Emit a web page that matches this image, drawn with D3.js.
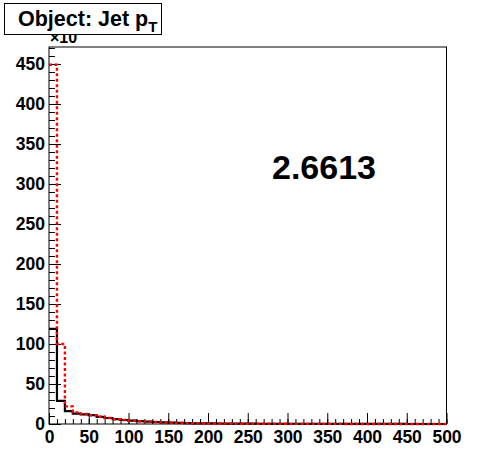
<!DOCTYPE html>
<html><head><meta charset="utf-8">
<script src="https://cdn.jsdelivr.net/npm/d3@7"></script>
<style>body{margin:0;background:#fff;}svg{display:block;font-family:"Liberation Sans",Arial,sans-serif;}</style>
</head><body>
<script>
const binEdges = d3.range(0, 510, 10);
const blackValues = [119, 29, 16, 13, 12, 11, 9, 7.5, 6, 5, 4.2, 3.5, 3, 2.5, 2, 1.6, 1.3, 1.1, 0.9, 0.8, 0.7, 0.6, 0.5, 0.45, 0.4, 0.35, 0.3, 0.28, 0.25, 0.22, 0.2, 0.18, 0.16, 0.14, 0.12, 0.1, 0.1, 0.08, 0.08, 0.07, 0.06, 0.05, 0.05, 0.04, 0.04, 0.03, 0.03, 0.03, 0.02, 0.02];
const redValues = [449, 100, 22, 14.5, 12.5, 11, 9, 7.5, 6, 5, 4, 3.5, 3, 2.5, 2, 1.6, 1.3, 1.1, 0.9, 0.8, 0.7, 0.6, 0.5, 0.45, 0.4, 0.35, 0.3, 0.28, 0.25, 0.22, 0.2, 0.18, 0.16, 0.14, 0.12, 0.1, 0.1, 0.08, 0.08, 0.07, 0.06, 0.05, 0.05, 0.04, 0.04, 0.03, 0.03, 0.03, 0.02, 0.02];
const xTickValues = [0, 50, 100, 150, 200, 250, 300, 350, 400, 450, 500];
const yTickValues = [0, 50, 100, 150, 200, 250, 300, 350, 400, 450];
const titleText = "Object: Jet p";
const titleSub = "T";
const exponentText = "\u00d710";
const valueLabel = "2.6613";

const W = 496, H = 472;
const L = 49, R = 446.5, T = 47, B = 424;
const svg = d3.select("body").append("svg").attr("width", W).attr("height", H);
const x = d3.scaleLinear().domain([0, 500]).range([L, R]);
const y = d3.scaleLinear().domain([0, 471.25]).range([B, T]);

// frame
svg.append("rect").attr("x", L).attr("y", T).attr("width", R - L).attr("height", B - T)
  .attr("fill", "none").attr("stroke", "#000").attr("stroke-width", 1);

// axes
const yAxis = d3.axisLeft(y).tickValues(yTickValues).tickSize(-12).tickPadding(4).tickFormat(d3.format("d"));
const yMinor = d3.axisLeft(y).tickValues(d3.range(0, 471, 10)).tickSize(-6).tickFormat("");
const xAxis = d3.axisBottom(x).tickValues(xTickValues).tickSize(-11).tickPadding(7).tickFormat(d3.format("d"));
const xMinor = d3.axisBottom(x).tickValues(d3.range(0, 501, 10)).tickSize(-5).tickFormat("");

function styleAxis(g) {
  g.select(".domain").remove();
  g.selectAll("line").attr("stroke", "#000").attr("stroke-width", 1);
  g.selectAll("text").attr("font-size", 17.5).attr("font-weight", "bold").attr("fill", "#000")
    .attr("font-family", "'Liberation Sans', Arial, sans-serif");
}
svg.append("g").attr("transform", `translate(${L},0)`).call(yMinor).call(styleAxis);
svg.append("g").attr("transform", `translate(${L},0)`).call(yAxis).call(styleAxis);
svg.append("g").attr("transform", `translate(0,${B})`).call(xMinor).call(styleAxis);
svg.append("g").attr("transform", `translate(0,${B})`).call(xAxis).call(styleAxis);

// histograms
function stepPath(vals) {
  const pts = [];
  vals.forEach((v, i) => {
    pts.push([x(binEdges[i]), y(v)]);
    pts.push([x(binEdges[i + 1]), y(v)]);
  });
  return d3.line()(pts);
}
svg.append("path").attr("d", stepPath(blackValues)).attr("fill", "none")
  .attr("stroke", "#000").attr("stroke-width", 2.2);
svg.append("path").attr("d", stepPath(redValues)).attr("fill", "none")
  .attr("stroke", "#ff0000").attr("stroke-width", 2.4).attr("stroke-dasharray", "3,2.5");

// exponent label
svg.append("text").attr("x", 50).attr("y", 43).attr("font-size", 16).attr("font-weight", "bold")
  .text(exponentText);

// title box
svg.append("rect").attr("x", 4.5).attr("y", 3.5).attr("width", 157).attr("height", 31)
  .attr("fill", "#fff").attr("stroke", "#000").attr("stroke-width", 1);
const tt = svg.append("text").attr("x", 18).attr("y", 26).attr("font-size", 21.5).attr("font-weight", "bold");
tt.append("tspan").text(titleText);
tt.append("tspan").attr("font-size", 15).attr("dy", 6).text(titleSub);

// value label
svg.append("text").attr("x", 272).attr("y", 179).attr("font-size", 34).attr("font-weight", "bold")
  .text(valueLabel);
</script>
</body></html>
